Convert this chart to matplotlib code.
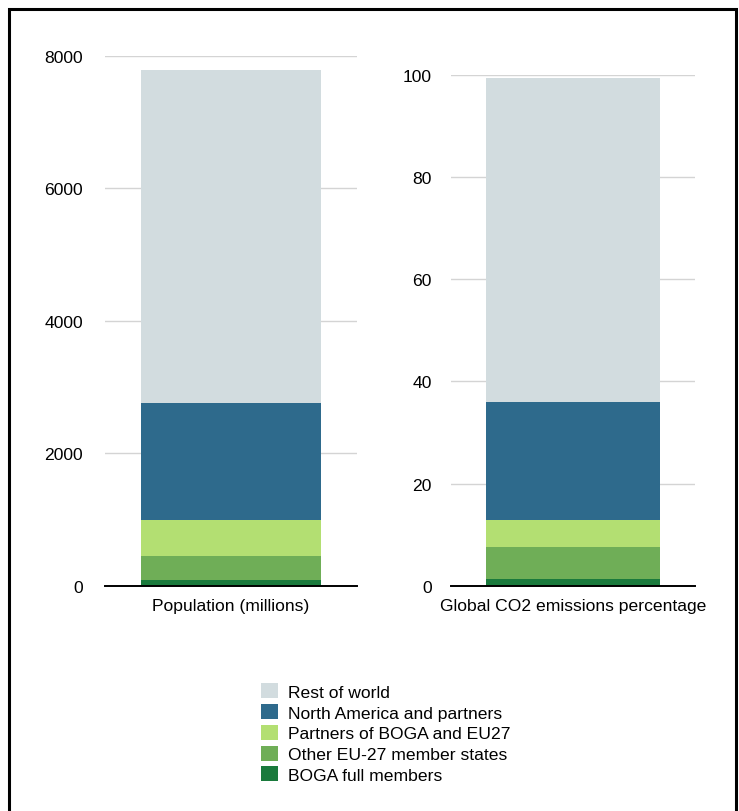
import matplotlib.pyplot as plt
import numpy as np
from matplotlib.patches import Patch, Rectangle

plt.rcParams['font.family'] = ['Liberation Sans', 'DejaVu Sans']

# ===============================
# Data
# ===============================
groups = ["BOGA full members", "Other EU-27 member states", "Partners of BOGA and EU27",
          "North America and partners", "Rest of world"]
colors = ["#1a7a3c", "#6fae57", "#b3df72", "#2e6a8c", "#d2dcdf"]

population = [92, 356, 544, 1766, 5022]      # millions
co2_share = [1.25, 6.25, 5.35, 23.15, 63.5]  # % of global emissions

pop_ticks = [0, 2000, 4000, 6000, 8000]
co2_ticks = [0, 20, 40, 60, 80, 100]

W, H = 739, 812
FS = 12.6
fig = plt.figure(figsize=(W / 100, H / 100), dpi=100)

# black frame round the whole picture
fig.patches.append(Rectangle((9 / W, -0.01), 727 / W, 1.01 - 9.5 / H, transform=fig.transFigure,
                             fill=False, edgecolor="black", linewidth=2.2))


def stacked(ax, values, ticks, label, pad):
    bottom = 0
    for v, c in zip(values, colors):
        ax.bar(0, v, width=1.0, bottom=bottom, color=c, edgecolor="none", zorder=2)
        bottom += v
    ax.set_xlim(-0.7, 0.7)
    ax.set_ylim(0, ticks[-1])
    ax.set_yticks(ticks)
    ax.set_yticklabels([str(t) for t in ticks], fontsize=FS)
    ax.tick_params(axis="y", length=0, pad=pad)
    ax.set_xticks([0])
    ax.set_xticklabels([label], fontsize=FS)
    ax.tick_params(axis="x", length=0, pad=9)
    for t in ticks[1:]:
        ax.axhline(t, color="#d4d4d4", linewidth=1.0, zorder=1)
    for s in ["top", "right", "left"]:
        ax.spines[s].set_visible(False)
    ax.spines["bottom"].set_linewidth(1.4)
    ax.spines["bottom"].set_zorder(3)
    ax.set_facecolor("none")


ax1 = fig.add_axes([105 / W, (H - 586.7) / H, 252 / W, 530 / H])
stacked(ax1, population, pop_ticks, "Population (millions)", 16)

ax2 = fig.add_axes([451 / W, (H - 586.7) / H, 244 / W, 510.7 / H])
stacked(ax2, co2_share, co2_ticks, "Global CO2 emissions percentage", 14)

# legend lists the top segment first
handles = [Patch(facecolor=c, edgecolor="none") for c in colors[::-1]]
fig.legend(handles, groups[::-1], loc="upper left", bbox_to_anchor=(249 / W, 1 - 672 / H),
           frameon=False, fontsize=FS, handlelength=0.95, handleheight=0.95,
           handletextpad=0.6, labelspacing=0.24, borderpad=0.2)

fig.savefig("out.png", dpi=100)
